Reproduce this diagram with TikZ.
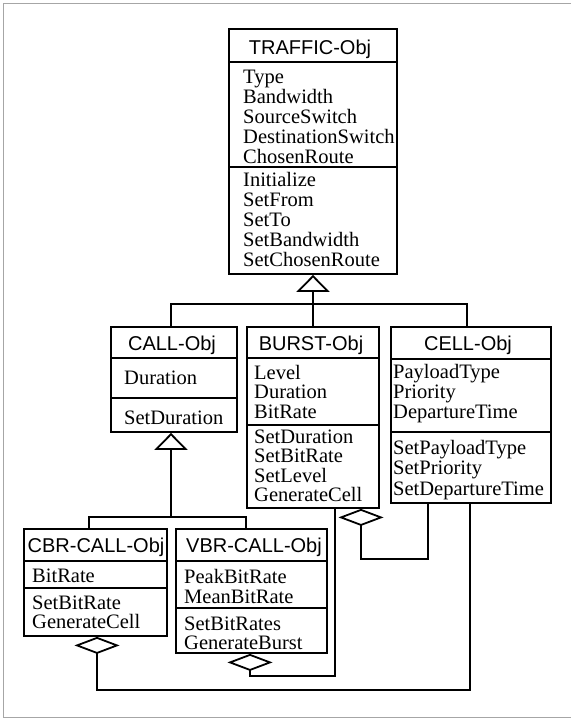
\documentclass[tikz,border=0pt]{standalone}
\usepackage{fontspec}
\setmainfont{Liberation Serif}
\setsansfont{Liberation Sans}
\usetikzlibrary{arrows.meta,fit,calc}

\begin{document}
\begin{tikzpicture}[x=1pt,y=-1pt,
  box/.style={draw, line width=1.8pt, inner sep=0pt},
  rule/.style={line width=1.5pt},
  ttl/.style={font=\sffamily\fontsize{20}{20}\selectfont, anchor=base, inner sep=0pt},
  mem/.style={font=\rmfamily\fontsize{20.5}{20}\selectfont, anchor=base west, inner sep=0pt},
  link/.style={line width=1.8pt},
  gen/.style={link, -{Triangle[open, width=33pt, length=17pt]}},
  agg/.style={link, -{Diamond[open, width=45pt, length=17pt]}},
  frame/.style={gray!70, line width=0.8pt}
]
\useasboundingbox (0,0) rectangle (571,720);

% page frame (open on the right)
\draw[frame] (571,3) -- (3,3) -- (3,717) -- (571,717);

% ---------- TRAFFIC-Obj ----------
\node[box, fit={(229,29) (397,274)}] (traffic) {};
\draw[rule] (229,62) -- (397,62);
\draw[rule] (229,167) -- (397,167);
\node[ttl] (traffic-t) at (310,54) {TRAFFIC-Obj};
\foreach \s [count=\i] in {Type,Bandwidth,SourceSwitch,DestinationSwitch,ChosenRoute}
  \node[mem] (traffic-a\i) at (243,63+20*\i) {\s};
\foreach \s [count=\i] in {Initialize,SetFrom,SetTo,SetBandwidth,SetChosenRoute}
  \node[mem] (traffic-o\i) at (243,166+20*\i) {\s};

% ---------- CALL-Obj ----------
\node[box, fit={(111,327) (237,432)}] (call) {};
\draw[rule] (111,358) -- (237,358);
\draw[rule] (111,398) -- (237,398);
\node[ttl] (call-t) at (172,350) {CALL-Obj};
\node[mem] (call-a1) at (124,384) {Duration};
\node[mem] (call-o1) at (124,424) {SetDuration};

% ---------- BURST-Obj ----------
\node[box, fit={(247,327) (379,508)}] (burst) {};
\draw[rule] (247,358) -- (379,358);
\draw[rule] (247,425) -- (379,425);
\node[ttl] (burst-t) at (311,350) {BURST-Obj};
\foreach \s [count=\i] in {Level,Duration,BitRate}
  \node[mem] (burst-a\i) at (254,359.5+19.5*\i) {\s};
\foreach \s [count=\i] in {SetDuration,SetBitRate,SetLevel,GenerateCell}
  \node[mem] (burst-o\i) at (254,423.5+19.5*\i) {\s};

% ---------- CELL-Obj ----------
\node[box, fit={(391,327) (551,503)}] (cell) {};
\draw[rule] (391,359) -- (551,359);
\draw[rule] (391,432) -- (551,432);
\node[ttl] (cell-t) at (468,350) {CELL-Obj};
\foreach \s [count=\i] in {PayloadType,Priority,DepartureTime}
  \node[mem] (cell-a\i) at (393,358+20*\i) {\s};
\foreach \s [count=\i] in {SetPayloadType,SetPriority,SetDepartureTime}
  \node[mem] (cell-o\i) at (393,433.5+20.5*\i) {\s};

% ---------- CBR-CALL-Obj ----------
\node[box, fit={(24,529) (167,636)}] (cbr) {};
\draw[rule] (24,561) -- (167,561);
\draw[rule] (24,588) -- (167,588);
\node[ttl] (cbr-t) at (96,552) {CBR-CALL-Obj};
\node[mem] (cbr-a1) at (32,582) {BitRate};
\foreach \s [count=\i] in {SetBitRate,GenerateCell}
  \node[mem] (cbr-o\i) at (32,590+19*\i) {\s};

% ---------- VBR-CALL-Obj ----------
\node[box, fit={(176,529) (327,653)}] (vbr) {};
\draw[rule] (176,561) -- (327,561);
\draw[rule] (176,608) -- (327,608);
\node[ttl] (vbr-t) at (254,552) {VBR-CALL-Obj};
\foreach \s [count=\i] in {PeakBitRate,MeanBitRate}
  \node[mem] (vbr-a\i) at (184,563+20*\i) {\s};
\foreach \s [count=\i] in {SetBitRates,GenerateBurst}
  \node[mem] (vbr-o\i) at (184,611+19*\i) {\s};

% ---------- generalisation ----------
\coordinate (j1) at (313,304);
\draw[gen] (burst.north) -- (traffic.south);
\draw[link] ([xshift=-3pt]call.north) |- (j1) -| ([xshift=-4pt]cell.north);

\coordinate (j2) at (171,517);
\draw[gen] (j2) -- ([xshift=-3pt]call.south);
\draw[link] ([xshift=-6.5pt]cbr.north) |- (j2) -| ([xshift=-5.5pt]vbr.north);

% ---------- aggregation ----------
\coordinate (b1) at (97,690);
\draw[agg] ([xshift=-1pt]cell.south) |- (b1) -- ([xshift=1.5pt]cbr.south);

\coordinate (b2) at (250,676);
\draw[agg] ([xshift=22pt]burst.south) |- (b2) -- ([xshift=-1.5pt]vbr.south);

\coordinate (b3) at (361,559);
\draw[agg] ([xshift=-43pt]cell.south) |- (b3) -- ([xshift=48pt]burst.south);
\end{tikzpicture}
\end{document}
